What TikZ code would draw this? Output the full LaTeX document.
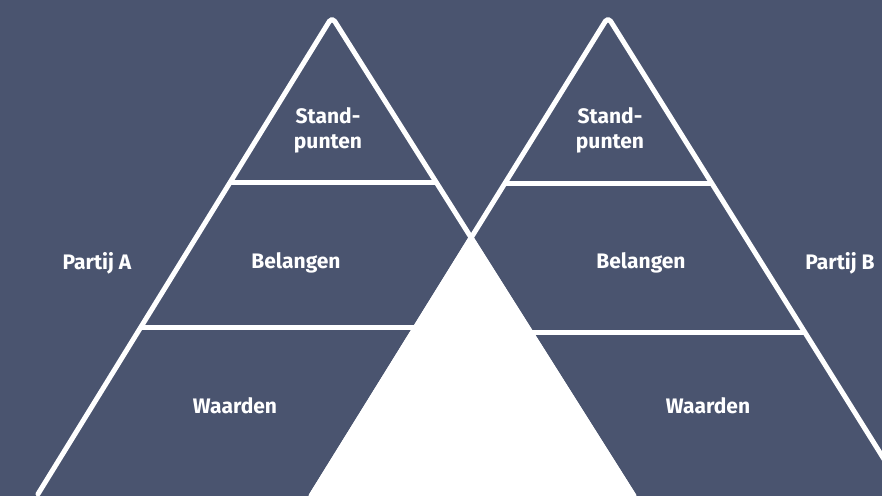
\documentclass[tikz,border=0pt]{standalone}
\usepackage{fontspec}
\setmainfont{Fira Sans}
\definecolor{bg}{RGB}{74,84,111}
\begin{document}
\begin{tikzpicture}[x=1pt,y=-1pt,
  outline/.style={draw=white,line width=5pt,line cap=round,line join=round,rounded corners=5pt},
  divider/.style={draw=white,line width=5pt},
  lbl/.style={text=white,font=\fontsize{21}{25}\selectfont\bfseries,inner sep=0pt,anchor=base},
  lbl2/.style={text=white,font=\fontsize{21}{25}\selectfont\bfseries,inner sep=0pt,align=center}]
\fill[bg] (0,0) rectangle (882,496);
\useasboundingbox (0,0) rectangle (882,496);
\begin{scope}
\clip (0,0) rectangle (882,496);
% left triangle
\coordinate (LA) at (332,17);
\coordinate (LL) at (38,494);
\coordinate (LR) at (634,496);
% right triangle
\coordinate (RA) at (608,17);
\coordinate (RL) at (311,496);
\coordinate (RR) at (907,496);
\coordinate (X) at (471,238);
% overlap
\fill[white] (X) -- (RL) -- (LR) -- cycle;
\draw[white,line width=5pt,line join=round] (X) -- (RL) -- (LR) -- cycle;
\draw[outline] (LL) -- (LA) -- (LR);
\draw[outline] (RL) -- (RA) -- (RR);
% dividers
\coordinate (d1a) at (230,182.5); \coordinate (d1b) at (436,182.5);
\coordinate (d2a) at (141,327.5); \coordinate (d2b) at (415.5,327.5);
\coordinate (d3a) at (505,183); \coordinate (d3b) at (712,183);
\coordinate (d4a) at (530.5,332); \coordinate (d4b) at (805,332);
\draw[divider] (d1a) -- (d1b);
\draw[divider] (d2a) -- (d2b);
\draw[divider] (d3a) -- (d3b);
\draw[divider] (d4a) -- (d4b);
\end{scope}
% labels
\node[lbl2] (sa) at (328,130) {Stand-\\punten};
\node[lbl2] (sb) at (610,130) {Stand-\\punten};
\node[lbl] (pa) at (97,269) {Partij A};
\node[lbl] (ba) at (296,268) {Belangen};
\node[lbl] (wa) at (235,413) {Waarden};
\node[lbl] (pb) at (840,269) {Partij B};
\node[lbl] (bb) at (641,268) {Belangen};
\node[lbl] (wb) at (708,413) {Waarden};
\end{tikzpicture}
\end{document}
